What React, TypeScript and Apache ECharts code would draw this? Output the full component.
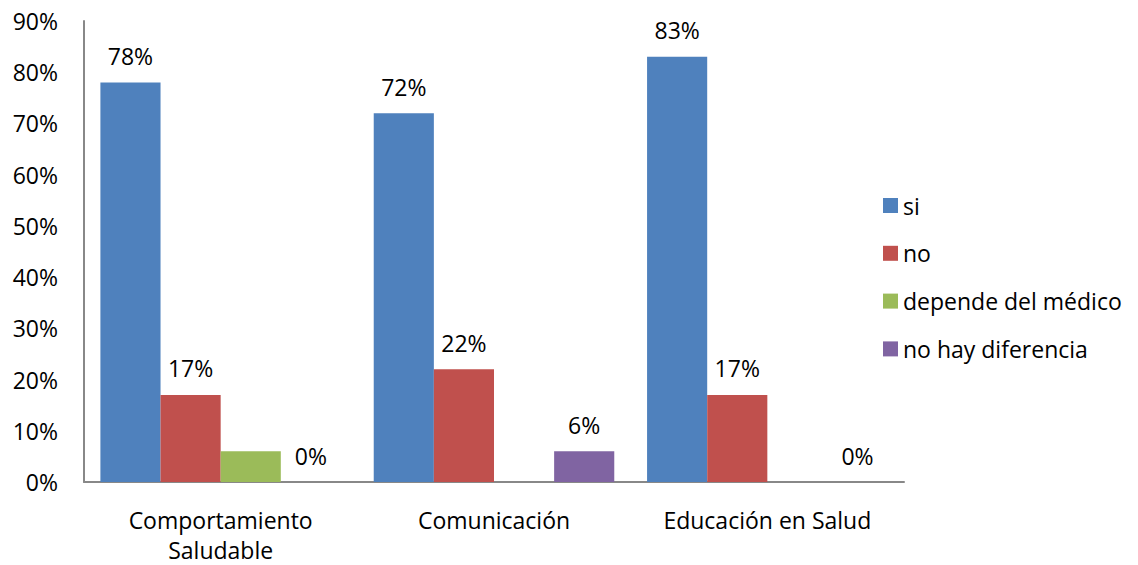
import React, { useEffect, useRef } from "react";
import * as echarts from "echarts";

const categories = ["Comportamiento\nSaludable", "Comunicación", "Educación en Salud"];
const siValues = [78, 72, 83];
const noValues = [17, 22, 17];
const dependeValues: (number | null)[] = [6, null, null];
const noHayValues = [0, 6, 0];
const yTicks = [0, 10, 20, 30, 40, 50, 60, 70, 80, 90];

const FONT = "'Open Sans', 'Noto Sans', sans-serif";
const FS = 23;

export default function App() {
  const ref = useRef<HTMLDivElement>(null);
  useEffect(() => {
    if (!ref.current) return;
    const chart = echarts.init(ref.current, undefined, { renderer: "svg" });
    const label = {
      show: true,
      position: "top" as const,
      distance: 15,
      formatter: (p: any) => `${p.value}%`,
      color: "#000",
      fontSize: FS,
      fontFamily: FONT,
    };
    chart.setOption({
      animation: false,
      textStyle: { fontFamily: FONT },
      grid: { left: 84, right: 234, top: 21, bottom: 78, containLabel: false },
      legend: {
        orient: "vertical",
        left: 878,
        top: 189,
        itemWidth: 15,
        itemHeight: 15,
        itemGap: 24.8,
        itemTextGap: 6,
        icon: "rect",
        textStyle: { fontSize: FS, color: "#000", fontFamily: FONT, lineHeight: 23 },
        data: ["si", "no", "depende del médico", "no hay diferencia"],
      },
      xAxis: {
        type: "category",
        data: categories,
        axisLine: { lineStyle: { color: "#888", width: 2 } },
        axisTick: { show: false },
        axisLabel: { color: "#000", fontSize: FS, fontFamily: FONT, lineHeight: 30, margin: 23, interval: 0 },
      },
      yAxis: {
        type: "value",
        min: 0,
        max: 90,
        interval: 10,
        axisLine: { show: true, lineStyle: { color: "#888", width: 2 } },
        axisTick: { show: false },
        splitLine: { show: false },
        axisLabel: {
          color: "#000",
          fontSize: FS,
          fontFamily: FONT,
          margin: 26,
          formatter: (v: number) => (yTicks.includes(v) ? `${v}%` : ""),
        },
      },
      series: [
        { name: "si", type: "bar", data: siValues, itemStyle: { color: "#4F81BD" }, barGap: "0%", barCategoryGap: "12%", label },
        { name: "no", type: "bar", data: noValues, itemStyle: { color: "#C0504D" }, label },
        { name: "depende del médico", type: "bar", data: dependeValues, itemStyle: { color: "#9BBB59" }, label: { show: false } },
        { name: "no hay diferencia", type: "bar", data: noHayValues, itemStyle: { color: "#8064A2" }, label },
      ],
    });
    return () => chart.dispose();
  }, []);
  return <div ref={ref} style={{ width: 1138, height: 565, position: "absolute", left: 0, top: 0 }} />;
}
